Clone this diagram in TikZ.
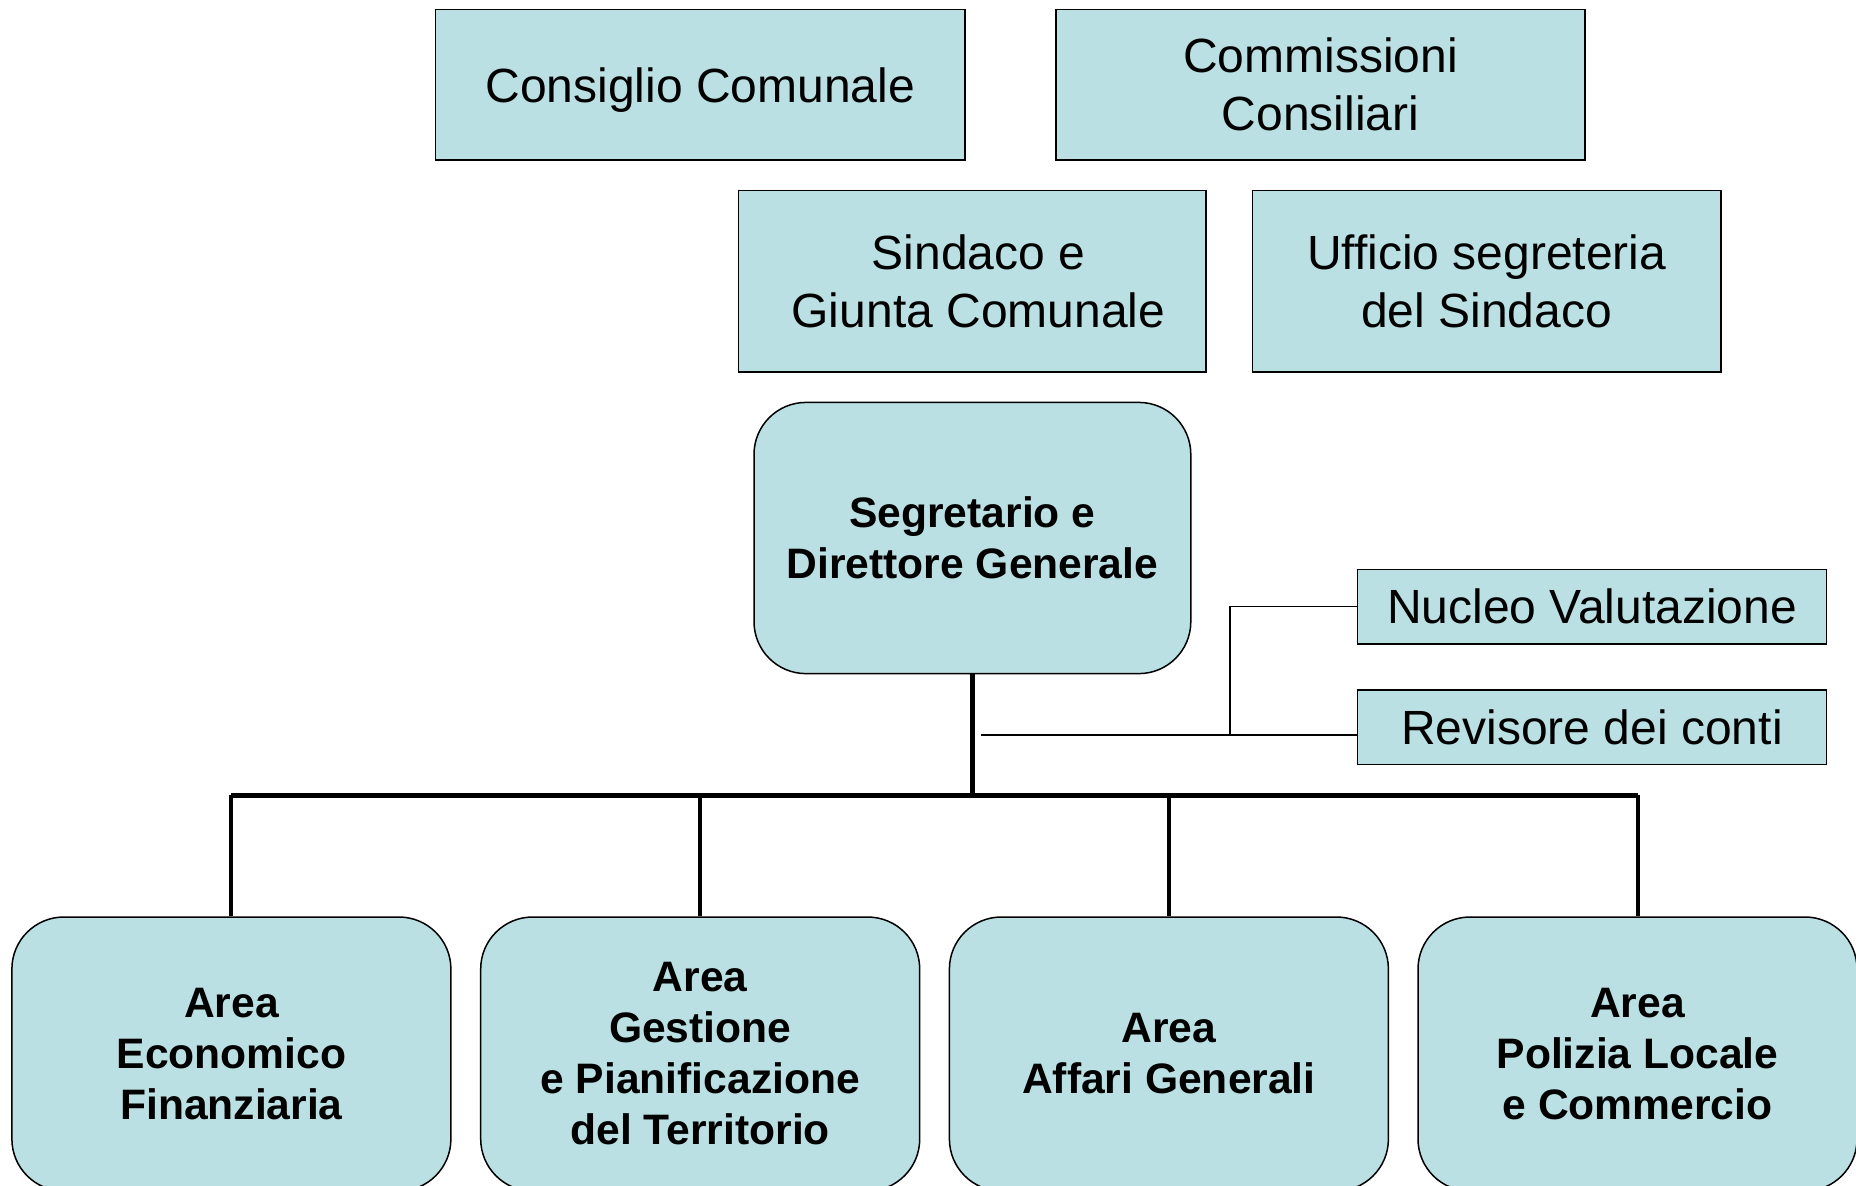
\documentclass[tikz,border=0pt]{standalone}
\usepackage{fontspec}
\setmainfont{Liberation Sans}
\definecolor{boxfill}{RGB}{187,224,227}
\begin{document}
\begin{tikzpicture}[x=0.5pt,y=-0.5pt,
  plainbox/.style={draw=black, line width=0.75pt, fill=boxfill, inner sep=0pt, align=center,
    font=\fontsize{24}{29}\selectfont},
  roundbox/.style={draw=black, line width=0.75pt, fill=boxfill, rounded corners=26pt, inner sep=0pt, align=center,
    font=\fontsize{21.3}{25.5}\selectfont\bfseries},
  areabox/.style={roundbox, minimum width=219.5pt, minimum height=137pt},
  busline/.style={line width=2.5pt},
  branchline/.style={line width=2pt},
  thinline/.style={line width=0.8pt}]
\useasboundingbox (0,0) rectangle (1856,1185);
\clip (0,0) rectangle (1856,1185);

\node[plainbox, minimum width=264.6pt, minimum height=75.2pt, text height=22.5pt, text depth=5pt] (cc) at (700.2,84.7) {Consiglio Comunale};
\node[plainbox, minimum width=264.6pt, minimum height=75.2pt] (cm) at (1320.4,84.7) {Commissioni\\Consiliari};
\node[plainbox, minimum width=233.8pt, minimum height=90.6pt] (sg) at (972.4,281.2) {\hspace*{6pt}Sindaco e\\\hspace*{6pt}Giunta Comunale};
\node[plainbox, minimum width=234.4pt, minimum height=90.6pt] (us) at (1486.7,281.2) {Ufficio segreteria\\del Sindaco};
\node[roundbox, minimum width=218.4pt, minimum height=135.6pt] (seg) at (972.4,538) {Segretario e\\Direttore Generale};
\node[plainbox, minimum width=234.4pt, minimum height=37.3pt] (nuc) at (1592,606.6) {Nucleo Valutazione};
\node[plainbox, minimum width=234.4pt, minimum height=37.3pt] (rev) at (1592,727.3) {Revisore dei conti};

\node[areabox] (a1) at (231.4,1054) {Area\\Economico\\Finanziaria};
\node[areabox] (a2) at (700.2,1054) {Area\\Gestione\\e Pianificazione\\del Territorio};
\node[areabox] (a3) at (1168.9,1054) {Area\\Affari Generali};
\node[areabox] (a4) at (1637.5,1054) {Area\\Polizia Locale\\e Commercio};

\coordinate (bus) at (973,795.4);
\coordinate (t0) at (981,735);
\coordinate (tj) at (1229.8,735);

\draw[busline] (seg.south) -- (seg.south |- bus);
\draw[busline] (a1.north |- bus) -- (a4.north |- bus);
\foreach \a in {a1,a2,a3,a4}{
  \draw[branchline] (\a.north) -- (\a.north |- bus);
}
\draw[thinline] (t0) -- (rev.west |- t0);
\draw[thinline] (tj) |- (nuc.west);
\end{tikzpicture}
\end{document}
